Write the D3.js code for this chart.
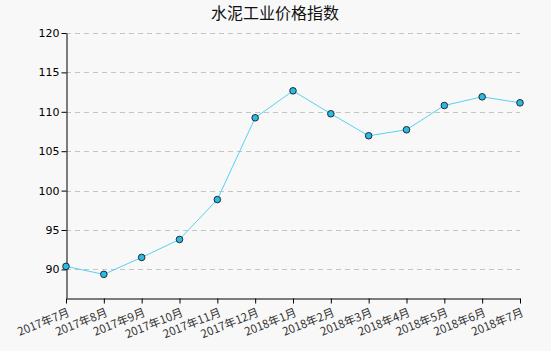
<!DOCTYPE html>
<html>
<head>
<meta charset="utf-8">
<script src="https://cdn.jsdelivr.net/npm/d3@7"></script>
<style>
  html, body { margin: 0; padding: 0; background: #f8f8f8; }
  svg { display: block; }
</style>
</head>
<body>
<svg id="chart"></svg>
<script>
// chart data
const months = ['2017年7月', '2017年8月', '2017年9月', '2017年10月', '2017年11月', '2017年12月',
    '2018年1月', '2018年2月', '2018年3月', '2018年4月', '2018年5月', '2018年6月', '2018年7月'];
const values = [90.38, 89.37, 91.52, 93.8, 98.86, 109.24, 112.66, 109.75, 106.96, 107.72, 110.8, 111.9, 111.14];
const yTicks = [90, 95, 100, 105, 110, 115, 120];

const width = 551;
const height = 351;
const margin = { top: 33, right: 31, bottom: 53, left: 66 };

const svg = d3.select('#chart')
    .attr('width', width)
    .attr('height', height);

svg.append('rect')
    .attr('width', width)
    .attr('height', height)
    .attr('fill', '#f8f8f8');

const x = d3.scalePoint()
    .domain(months)
    .range([margin.left, width - margin.right]);

const y = d3.scaleLinear()
    .domain([86.37, 120])
    .range([height - margin.bottom, margin.top]);

// title
svg.append('text')
    .attr('x', 275)
    .attr('y', 19)
    .attr('text-anchor', 'middle')
    .style('font-family', '"Noto Sans CJK SC", sans-serif')
    .style('font-size', '16px')
    .attr('fill', '#111')
    .text('水泥工业价格指数');

// horizontal dashed grid
svg.append('g')
    .selectAll('line')
    .data(yTicks)
    .enter().append('line')
    .attr('x1', margin.left)
    .attr('x2', width - margin.right)
    .attr('y1', d => Math.round(y(d)) + 0.5)
    .attr('y2', d => Math.round(y(d)) + 0.5)
    .attr('stroke', '#c4c4c4')
    .attr('stroke-dasharray', '5,4');

// y axis
const yAxis = svg.append('g')
    .attr('transform', `translate(${margin.left + 0.5},0)`)
    .call(d3.axisLeft(y).tickValues(yTicks).tickSize(5).tickSizeOuter(0));
yAxis.select('.domain').attr('stroke', '#000');
yAxis.selectAll('.tick line').attr('stroke', '#000');
yAxis.selectAll('.tick text')
    .attr('x', -7)
    .attr('fill', '#000')
    .style('font-family', '"DejaVu Sans", sans-serif')
    .style('font-size', '11px');

// x axis
const xAxis = svg.append('g')
    .attr('transform', `translate(0,${height - margin.bottom + 0.5})`)
    .call(d3.axisBottom(x).tickSize(5).tickSizeOuter(0));
xAxis.select('.domain').attr('stroke', '#000');
xAxis.selectAll('.tick line').attr('stroke', '#000');
xAxis.selectAll('.tick text')
    .attr('text-anchor', 'end')
    .attr('dy', null)
    .attr('y', 0)
    .attr('transform', 'translate(4,17) rotate(-22)')
    .attr('fill', '#333')
    .style('font-family', '"Noto Sans CJK SC", sans-serif')
    .style('font-size', '11.5px');

// line
const line = d3.line()
    .x((d, i) => x(months[i]))
    .y(d => y(d));

svg.append('path')
    .datum(values)
    .attr('d', line)
    .attr('fill', 'none')
    .attr('stroke', '#55d2f5')
    .attr('stroke-width', 1);

// markers
svg.append('g')
    .selectAll('circle')
    .data(values)
    .enter().append('circle')
    .attr('cx', (d, i) => x(months[i]))
    .attr('cy', d => y(d))
    .attr('r', 3.3)
    .attr('fill', '#2bb9e6')
    .attr('stroke', '#1a1a1a')
    .attr('stroke-width', 0.9);
</script>
</body>
</html>
